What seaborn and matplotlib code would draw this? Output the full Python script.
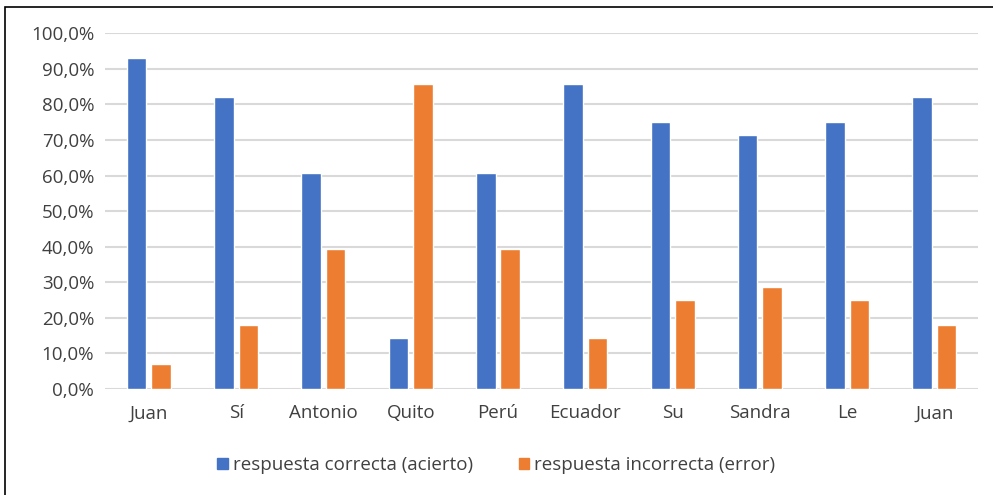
import pandas as pd
import numpy as np
import matplotlib
matplotlib.use("Agg")
import matplotlib.pyplot as plt
import matplotlib.patches as mpatches
from matplotlib.ticker import FuncFormatter
import seaborn as sns

palabras = ["Juan", "Sí", "Antonio", "Quito", "Perú", "Ecuador", "Su", "Sandra", "Le", "Juan"]
acierto = [92.9, 82.1, 60.7, 14.3, 60.7, 85.7, 75.0, 71.4, 75.0, 82.1]
error = [7.1, 17.9, 39.3, 85.7, 39.3, 14.3, 25.0, 28.6, 25.0, 17.9]
series = ["respuesta correcta (acierto)", "respuesta incorrecta (error)"]
colores = ["#4472C4", "#ED7D31"]

# palabras se repiten (Juan), asi que se usa la posicion como categoria
pos = [str(i) for i in range(len(palabras))]
df = pd.DataFrame({
    "pos": pos * 2,
    "valor": acierto + error,
    "serie": [series[0]] * len(pos) + [series[1]] * len(pos),
})

sns.set_style("white")
plt.rcParams["font.family"] = ["Open Sans", "DejaVu Sans"]

fig = plt.figure(figsize=(9.93, 4.95), dpi=100)
ax = fig.add_axes([0.106, 0.214, 0.879, 0.719])

sns.barplot(data=df, x="pos", y="valor", hue="serie", order=pos,
            hue_order=series, palette=colores, width=0.56, gap=0.2,
            saturation=1, ax=ax, legend=False)

ax.set_ylim(0, 100)
ax.set_yticks(np.arange(0, 101, 10))
ax.yaxis.set_major_formatter(FuncFormatter(lambda v, p: f"{v:.1f}%".replace(".", ",")))
ax.set_xticks(range(len(palabras)))
ax.set_xticklabels(palabras)
ax.grid(axis="y", color="#D9D9D9", linewidth=1.5)
ax.set_axisbelow(True)
ax.tick_params(axis="both", length=0, labelsize=13.5, colors="#404040")
ax.tick_params(axis="x", pad=11)
ax.tick_params(axis="y", pad=8)
ax.set_xlabel("")
ax.set_ylabel("")
for s in ax.spines.values():
    s.set_visible(False)

handles = [mpatches.Patch(color=c, label=l) for c, l in zip(colores, series)]
fig.legend(handles=handles, loc="center", bbox_to_anchor=(0.5, 0.06), ncol=2,
           frameon=False, fontsize=13.5, handlelength=0.55, handleheight=0.55,
           handletextpad=0.3, columnspacing=2.4, labelcolor="#404040")

# marco del grafico
fig.patches.append(mpatches.Rectangle((5 / 993, -0.1), 1.2, 1 + 0.1 - 7 / 495,
                                      transform=fig.transFigure, fill=False,
                                      edgecolor="black", linewidth=1.2))

fig.savefig("out.png", dpi=100)
